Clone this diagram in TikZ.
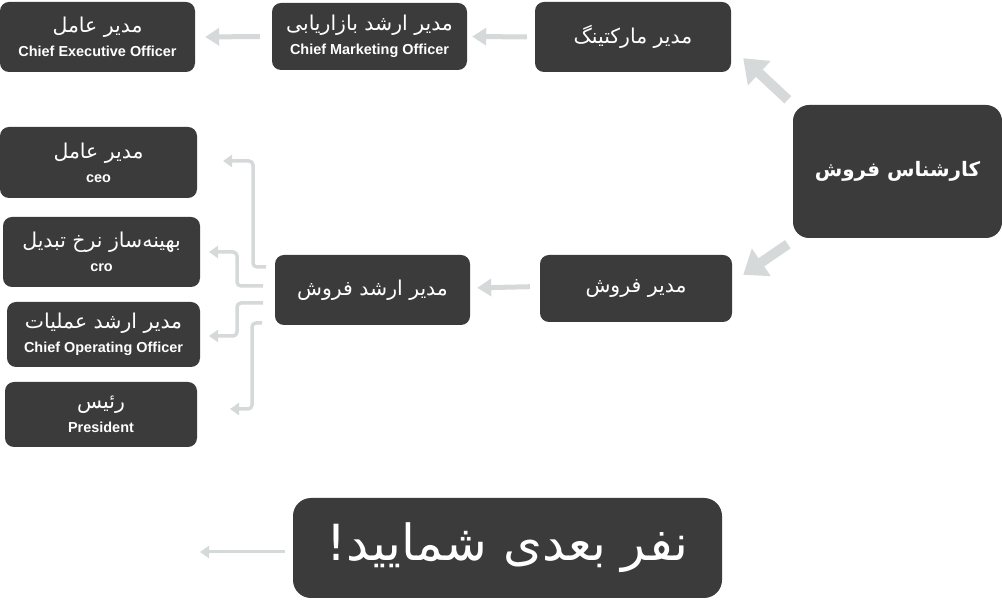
\documentclass[tikz,border=0pt]{standalone}
\usepackage{fontspec}
\setmainfont{Liberation Sans}
\newfontfamily\fa[Script=Arabic]{DejaVu Sans}
\TeXXeTstate=1
\usetikzlibrary{arrows.meta}
\definecolor{boxgray}{HTML}{3B3B3B}
\definecolor{linkgray}{HTML}{D6D9D9}
\newcommand{\fatext}[1]{{\fa\beginR #1\endR}}
\newcommand{\entext}[1]{{\fontsize{14.5}{17}\selectfont\bfseries #1}}
\tikzset{
  role/.style={fill=boxgray,text=white,rounded corners=9bp,align=center,inner sep=0pt,
    font=\fontsize{20.5}{24}\selectfont},
  link/.style={draw=linkgray,line width=5bp,-{Triangle[length=14bp,width=17bp]}},
  bigLink/.style={draw=linkgray,line width=10bp,-{Triangle[length=22bp,width=32bp]}},
  branch/.style={draw=linkgray,line width=3.5bp,rounded corners=4bp,-{Triangle[length=9bp,width=12bp]}},
}
\begin{document}
\begin{tikzpicture}[>=latex,line join=round]
    \useasboundingbox (0bp,0bp) rectangle (1002bp,600bp);
    %%
    \node (ceoA) at (97.5bp,563bp) [role,minimum width=195bp,minimum height=70bp] {\fatext{مدیر عامل}\\\entext{Chief Executive Officer}};
    \node (cmo) at (369.5bp,563.5bp) [role,minimum width=195bp,minimum height=67bp] {\fatext{مدیر ارشد بازاریابی}\\\entext{Chief Marketing Officer}};
    \node (mkt) at (633bp,563bp) [role,minimum width=196bp,minimum height=70bp] {\fatext{مدیر مارکتینگ}};
    \node (expert) at (897.5bp,428.5bp) [role,minimum width=209bp,minimum height=133bp,rounded corners=16bp,font=\fontsize{20}{24}\selectfont\bfseries] {\fatext{کارشناس فروش}};
    \node (sales) at (636bp,311.5bp) [role,minimum width=192bp,minimum height=67bp] {\fatext{مدیر فروش}};
    \node (srsales) at (372.5bp,310bp) [role,minimum width=195bp,minimum height=70bp] {\fatext{مدیر ارشد فروش}};
    \node (ceoB) at (98.5bp,437.5bp) [role,minimum width=197bp,minimum height=71bp] {\fatext{مدیر عامل}\\\entext{ceo}};
    \node (cro) at (101.5bp,348bp) [role,minimum width=197bp,minimum height=70bp] {\fatext{بهینه‌ساز نرخ تبدیل}\\\entext{cro}};
    \node (coo) at (103.5bp,265.5bp) [role,minimum width=193bp,minimum height=65bp] {\fatext{مدیر ارشد عملیات}\\\entext{Chief Operating Officer}};
    \node (pres) at (101bp,185.5bp) [role,minimum width=192bp,minimum height=65bp] {\fatext{رئیس}\\\entext{President}};
    \node (next) at (507.5bp,52bp) [role,minimum width=429bp,minimum height=100bp,rounded corners=18bp,font=\fontsize{50}{56}\selectfont] {\fatext{نفر بعدی شمایید!}};
    %%
    \coordinate (s1) at (266bp,333bp);
    \coordinate (s2) at (263bp,314bp);
    \coordinate (s3) at (263bp,297bp);
    \coordinate (s4) at (262bp,277bp);
    \coordinate (t1) at (223bp,439bp);
    \coordinate (t2) at (209bp,348bp);
    \coordinate (t3) at (209bp,264bp);
    \coordinate (t4) at (230bp,191bp);
    \coordinate (nextend) at (200bp,48bp);
    %%
    \draw [link,shorten <=8bp,shorten >=5bp] (mkt.west) -- (cmo.east);
    \draw [link,shorten <=12bp,shorten >=10bp] (cmo.west) -- (ceoA.east);
    \draw [link,shorten <=10bp,shorten >=7bp] ([yshift=2bp]sales.west) -- ([yshift=2bp]srsales.east);
    \draw [bigLink] ([shift={(-5bp,5bp)}]expert.north west) -- ([shift={(12bp,14bp)}]mkt.south east);
    \draw [bigLink] ([shift={(-5bp,-6bp)}]expert.south west) -- ([shift={(11bp,-20bp)}]sales.north east);
    \draw [branch] (s1) -| ([xshift=30bp]t1) -- (t1);
    \draw [branch] (s2) -| ([xshift=28bp]t2) -- (t2);
    \draw [branch] (s3) -| ([xshift=28bp]t3) -- (t3);
    \draw [branch] (s4) -| ([xshift=22bp]t4) -- (t4);
    \draw [branch,line width=3bp] ([shift={(-8bp,-4bp)}]next.west) -- (nextend);
    %
\end{tikzpicture}
\end{document}
